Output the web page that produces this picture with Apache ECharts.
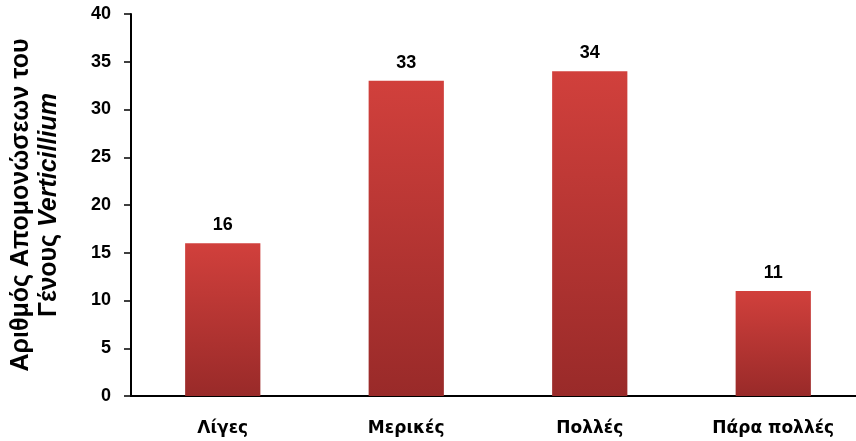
<!DOCTYPE html>
<html>
<head>
<meta charset="utf-8">
<script src="https://cdn.jsdelivr.net/npm/echarts@6/dist/echarts.min.js"></script>
<style>
  html, body { margin: 0; padding: 0; background: #fff; }
  #chart { width: 856px; height: 441px; }
</style>
</head>
<body>
<div id="chart"></div>
<script>
const categories = ["Λίγες", "Μερικές", "Πολλές", "Πάρα πολλές"];
const counts = [16, 33, 34, 11];
const yTicks = [0, 5, 10, 15, 20, 25, 30, 35, 40];

let dom = document.getElementById("chart");
let myChart = echarts.init(dom, null, { renderer: "canvas" });

const font = "Liberation Sans";

let option = {
  animation: false,
  grid: { left: 131, right: -9, top: 14, bottom: 45, containLabel: false, outerBoundsMode: "none" },
  xAxis: {
    type: "category",
    data: categories,
    axisLine: { lineStyle: { color: "#000", width: 2 } },
    axisTick: { show: false },
    axisLabel: {
      margin: 24,
      color: "#000",
      fontFamily: "DejaVu Sans",
      fontWeight: "bold",
      fontSize: 17
    }
  },
  yAxis: {
    type: "value",
    min: yTicks[0],
    max: yTicks[yTicks.length - 1],
    interval: 5,
    splitLine: { show: false },
    axisLine: { show: true, lineStyle: { color: "#000", width: 2 } },
    axisTick: { show: true, length: 7, lineStyle: { color: "#000", width: 1.5 } },
    axisLabel: {
      margin: 20,
      color: "#000",
      fontFamily: font,
      fontWeight: "bold",
      fontSize: 18
    },
    name: "{n|Αριθμός Απομονώσεων του}\n{n|Γένους }{i|Verticillium}",
    nameLocation: "middle",
    nameGap: 68,
    nameRotate: 90,
    nameTextStyle: {
      lineHeight: 28,
      rich: {
        n: { fontFamily: font, fontWeight: "bold", fontSize: 25, color: "#000", lineHeight: 28 },
        i: { fontFamily: font, fontWeight: "bold", fontStyle: "italic", fontSize: 25, color: "#000", lineHeight: 28 }
      }
    }
  },
  series: [
    {
      type: "bar",
      data: counts,
      barWidth: "41%",
      itemStyle: {
        color: new echarts.graphic.LinearGradient(0, 0, 0, 1, [
          { offset: 0, color: "#d1403c" },
          { offset: 1, color: "#992a29" }
        ])
      },
      label: {
        show: true,
        position: "top",
        distance: 9,
        color: "#000",
        fontFamily: font,
        fontWeight: "bold",
        fontSize: 18
      }
    }
  ]
};

myChart.setOption(option);
window.addEventListener("resize", myChart.resize);
</script>
</body>
</html>
